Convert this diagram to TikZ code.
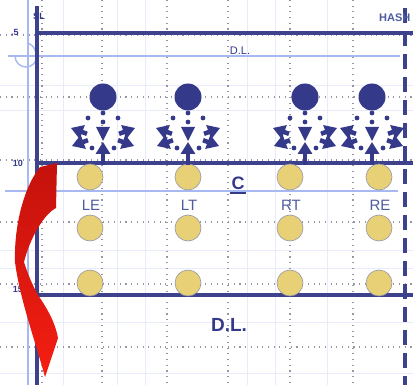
\documentclass[tikz,border=0pt]{standalone}
\usepackage{fontspec}
\setmainfont{Liberation Sans}
\usetikzlibrary{arrows.meta}
\definecolor{navy}{RGB}{52,57,138}
\definecolor{navyln}{RGB}{62,66,140}
\definecolor{lightln}{RGB}{168,184,240}
\definecolor{faintln}{RGB}{232,236,250}
\definecolor{dotgray}{RGB}{150,150,162}
\definecolor{lblcol}{RGB}{78,92,160}
\definecolor{yel}{RGB}{232,208,118}
\definecolor{yelrim}{RGB}{150,150,165}
\definecolor{redtop}{RGB}{196,18,12}
\definecolor{redbot}{RGB}{245,30,18}
\newcommand\sprayhead[3]{%
  \begin{scope}[shift={(#1,#2)},rotate=#3]
    \fill[navy] (0,0) -- (-12,-7.5) -- (-12,7.5) -- cycle;
    \draw[navy,line width=4.5pt] (-11,0) -- (-17,0);
  \end{scope}}
\begin{document}
\begin{tikzpicture}[x=1pt,y=-1pt,
  faint/.style={draw=faintln,line width=0.8pt},
  dotgrid/.style={draw=dotgray,line width=1.1pt,dash pattern=on 1.1pt off 4.6pt},
  lightline/.style={draw=lightln,line width=1.4pt},
  mainline/.style={draw=navyln,line width=3.2pt},
  navydot/.style={circle,fill=navy,minimum size=27pt,inner sep=0pt},
  yeldot/.style={circle,fill=yel,draw=yelrim,line width=0.6pt,minimum size=26pt,inner sep=0pt},
  smalldot/.style={circle,fill=navy,minimum size=4.8pt,inner sep=0pt},
  lbl/.style={text=lblcol,font=\fontsize{15}{15}\selectfont,inner sep=0pt},
  tinylbl/.style={text=navy,font=\bfseries\fontsize{9}{9}\selectfont,inner sep=0pt},
  uparrow/.style={draw=navy,line width=3.8pt,-{Triangle[width=14pt,length=12pt]}}
]
\useasboundingbox (0,0) rectangle (413,385);
\clip (0,0) rectangle (413,385);
\fill[white] (0,0) rectangle (413,385);

% faint grid
\foreach \x in {63,117,145,247,275,327} \draw[faint] (\x,0) -- (\x,385);
\foreach \y in {85,110,250,268,322,373} \draw[faint] (0,\y) -- (413,\y);

% dotted grid
\foreach \x in {42,102,167,228,290,353} \draw[dotgrid] (\x,0) -- (\x,385);
\foreach \y in {35,97,160,222,284,347} \draw[dotgrid] (0,\y) -- (413,\y);

% light blue lines
\draw[lightline] (28,0) -- (28,385);
\draw[lightline] (8,56) -- (400,56);
\draw[lightline] (5,191) -- (398,191);
\draw[lightline] (15,56) arc[start angle=180,end angle=0,radius=11];
\draw[lightline] (27,43) .. controls (32,44) and (35,48) .. (36,53);

% small labels
\node[tinylbl] (five) at (15,32) {.5};
\node[tinylbl] (ten) at (18,163) {10};
\node[tinylbl] (fifteen) at (18,289) {15};

% main navy lines
\draw[mainline] (37,6) -- (37,385);
\draw[mainline] (37,33) -- (413,33);
\draw[mainline] (37,163) -- (413,163);
\draw[mainline] (37,295) -- (413,295);
\draw[mainline,dash pattern=on 15pt off 8pt] (405,8) -- (405,385);

\node[tinylbl] (sl) at (39,16) {SL};
\node[text=lblcol,font=\bfseries\fontsize{11}{11}\selectfont,inner sep=0pt,anchor=west] (hash) at (379,18) {HASH};

% text labels
\node[text=navy,font=\fontsize{11}{11}\selectfont,inner sep=0pt] (dltop) at (240,51) {D.L.};
\node[text=navy,font=\bfseries\fontsize{18}{18}\selectfont,inner sep=0pt] (c) at (238,183) {C};
\draw[navy,line width=1.5pt] (230,193) -- (246,193);
\node[text=navy,font=\bfseries\fontsize{19}{19}\selectfont,inner sep=0pt] (dlbot) at (229,325) {D.L.};

% yellow circles and labels
\foreach \x/\n/\t in {90/le/LE,188/lt/LT,290/rt/RT,379/re/RE} {
  \node[yeldot] (\n1) at (\x,177) {};
  \node[yeldot] (\n2) at (\x,228) {};
  \node[yeldot] (\n3) at (\x,283) {};
  \node[lbl] (\n lab) at (\x+1,205) {\t};
}

% navy clusters
\foreach \cx/\i in {103/1,188/2,305/3,372/4} {
  \node[navydot] (top\i) at (\cx,97) {};
  \begin{scope}[shift={(\cx,97)}]
    \node[smalldot] (d\i a) at (0,16) {};
    \node[smalldot] (d\i b) at (-15,21) {};
    \node[smalldot] (d\i c) at (15,21) {};
    \node[smalldot] (d\i d) at (0,25) {};
    \node[smalldot] (d\i e) at (-11,51) {};
    \node[smalldot] (d\i f) at (11,51) {};
    \fill[navy] (-7,30) -- (7,30) -- (0,44) -- cycle;
    \sprayhead{-32}{31}{160}
    \sprayhead{-31}{49}{200}
    \sprayhead{32}{31}{20}
    \sprayhead{31}{49}{-20}
    \coordinate (foot\i) at (0,68);
    \coordinate (head\i) at (0,45);
    \draw[uparrow] (foot\i) -- (head\i);
  \end{scope}
}

% red curved arrow
\shade[top color=redtop,bottom color=redbot]
  (40,167) -- (57,163) -- (56,208)
  .. controls (44,214) and (30,238) .. (24,262)
  .. controls (28,275) and (33,286) .. (38,295)
  .. controls (48,310) and (55,322) .. (58,338)
  -- (45,377)
  .. controls (35,340) and (20,300) .. (15,262)
  .. controls (14,230) and (22,190) .. (40,167) -- cycle;
\end{tikzpicture}
\end{document}
